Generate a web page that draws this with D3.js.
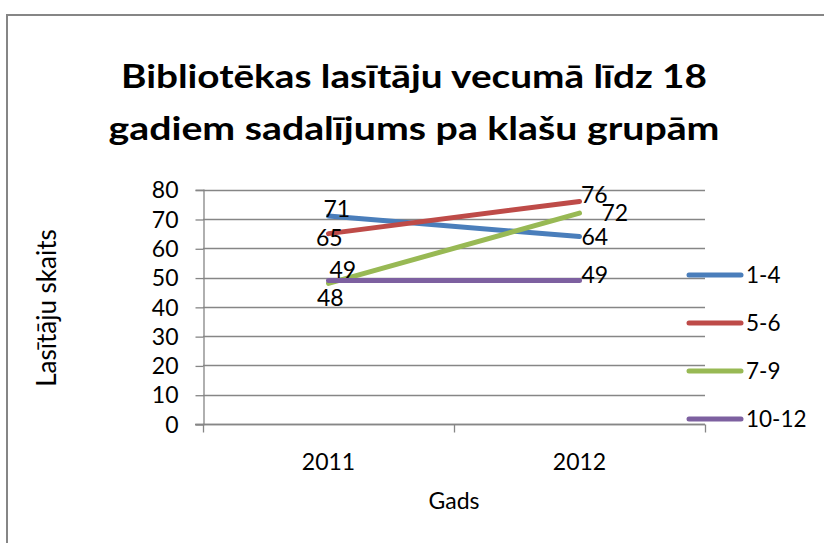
<!DOCTYPE html>
<html>
<head>
<meta charset="utf-8">
<script src="https://cdn.jsdelivr.net/npm/d3@7"></script>
<style>
  html, body { margin: 0; padding: 0; background: #fff; }
  svg { display: block; }
  text { font-family: Lato, "Open Sans", Arial, sans-serif; fill: #000; }
</style>
</head>
<body>
<script>
// data
const years = ["2011", "2012"];
const seriesNames = ["1-4", "5-6", "7-9", "10-12"];
const values14 = [71, 64];
const values56 = [65, 76];
const values79 = [48, 72];
const values1012 = [49, 49];
const yTicks = [0, 10, 20, 30, 40, 50, 60, 70, 80];

const series = [
    { name: seriesNames[0], values: values14 },
    { name: seriesNames[1], values: values56 },
    { name: seriesNames[2], values: values79 },
    { name: seriesNames[3], values: values1012 }
];

const colors = ["#4a7ebb", "#be4b48", "#98b954", "#7d60a0"];
// label nudges [dx, dy] from each point (text start, vertical centre)
const labelNudge = [
    [[-5, -7.5], [2, 0]],
    [[-12.5, 4], [1.5, -7]],
    [[-11.5, 14.5], [22, 0]],
    [[1, -11], [2, -6]]
];

const width = 824, height = 543;
const plot = { left: 203, right: 705, top: 189.7, bottom: 424 };
const fontSize = 23;

const svg = d3.select("body").append("svg")
    .attr("width", width)
    .attr("height", height);

// chart frame
svg.append("rect")
    .attr("x", 7).attr("y", 15)
    .attr("width", 830).attr("height", 560)
    .attr("fill", "#fff")
    .attr("stroke", "#868686")
    .attr("stroke-width", 2);

// title (squeezed a bit to get closer to a condensed face)
const titleLines = ["Bibliotēkas lasītāju vecumā līdz 18", "gadiem sadalījums pa klašu grupām"];
const titleWidths = [586, 611];
svg.append("g")
    .selectAll("text")
    .data(titleLines)
    .enter().append("text")
    .attr("x", 414)
    .attr("y", (d, i) => 88 + i * 52)
    .attr("text-anchor", "middle")
    .attr("textLength", (d, i) => titleWidths[i])
    .attr("lengthAdjust", "spacingAndGlyphs")
    .style("font-weight", "bold")
    .style("font-size", "33px")
    .text(d => d);

const x = d3.scaleBand()
    .domain(years)
    .range([plot.left, plot.right])
    .padding(0);

const y = d3.scaleLinear()
    .domain([0, 80])
    .range([plot.bottom, plot.top]);

// gridlines
svg.append("g")
    .selectAll("line")
    .data(yTicks)
    .enter().append("line")
    .attr("x1", plot.left)
    .attr("x2", plot.right)
    .attr("y1", d => Math.round(y(d)) + 0.5)
    .attr("y2", d => Math.round(y(d)) + 0.5)
    .attr("stroke", "#868686")
    .attr("stroke-width", 1.3);

// y axis
const yAxis = svg.append("g")
    .attr("transform", "translate(" + (plot.left + 0.5) + ",0)")
    .call(d3.axisLeft(y).tickValues(yTicks).tickSize(8).tickPadding(17));
yAxis.select(".domain").attr("stroke", "#868686").attr("stroke-width", 1.3);
yAxis.selectAll(".tick line").attr("stroke", "#868686").attr("stroke-width", 1.3)
    .attr("transform", "translate(0,0.5)");
yAxis.selectAll(".tick text")
    .style("font-size", fontSize + "px")
    .style("font-family", "Lato")
    .attr("fill", "#000")
    .attr("dy", "0.36em");

// x axis: ticks at category boundaries
const xEdges = years.map(d => x(d)).concat([x(years[years.length - 1]) + x.bandwidth()]);
const xAxis = svg.append("g").attr("transform", "translate(0," + (Math.round(plot.bottom) + 0.5) + ")");
xAxis.append("line")
    .attr("x1", plot.left - 8).attr("x2", plot.right)
    .attr("stroke", "#868686").attr("stroke-width", 1.3);
xAxis.selectAll("line.tick")
    .data(xEdges)
    .enter().append("line")
    .attr("class", "tick")
    .attr("x1", d => Math.round(d) + 0.5)
    .attr("x2", d => Math.round(d) + 0.5)
    .attr("y1", 0).attr("y2", 8)
    .attr("stroke", "#868686").attr("stroke-width", 1.3);
xAxis.selectAll("text")
    .data(years)
    .enter().append("text")
    .attr("x", d => x(d) + x.bandwidth() / 2)
    .attr("y", 45)
    .attr("text-anchor", "middle")
    .style("font-size", fontSize + "px")
    .text(d => d);

// axis titles
svg.append("text")
    .attr("x", 454)
    .attr("y", 509)
    .attr("text-anchor", "middle")
    .style("font-size", fontSize + "px")
    .text("Gads");

svg.append("text")
    .attr("transform", "translate(56,308)rotate(-90)")
    .attr("text-anchor", "middle")
    .style("font-size", "26px")
    .text("Lasītāju skaits");

// lines
const line = d3.line()
    .x((d, i) => x(years[i]) + x.bandwidth() / 2)
    .y(d => y(d));

svg.append("g")
    .selectAll("path")
    .data(series)
    .enter().append("path")
    .attr("d", d => line(d.values))
    .attr("fill", "none")
    .attr("stroke", (d, i) => colors[i])
    .attr("stroke-width", 5)
    .attr("stroke-linecap", "round");

// data labels
series.forEach(function (s, si) {
    svg.append("g")
        .selectAll("text")
        .data(s.values)
        .enter().append("text")
        .attr("x", (d, i) => x(years[i]) + x.bandwidth() / 2 + labelNudge[si][i][0])
        .attr("y", (d, i) => y(d) + labelNudge[si][i][1])
        .attr("dy", "0.36em")
        .style("font-size", fontSize + "px")
        .text(d => d);
});

// legend
const legend = svg.append("g")
    .selectAll("g")
    .data(series)
    .enter().append("g")
    .attr("transform", (d, i) => "translate(689," + (275 + i * 48) + ")");

legend.append("line")
    .attr("x1", 0).attr("x2", 52)
    .attr("stroke", (d, i) => colors[i])
    .attr("stroke-width", 5)
    .attr("stroke-linecap", "round");

legend.append("text")
    .attr("x", 57)
    .attr("dy", "0.36em")
    .style("font-size", "22.5px")
    .text(d => d.name);
</script>
</body>
</html>
